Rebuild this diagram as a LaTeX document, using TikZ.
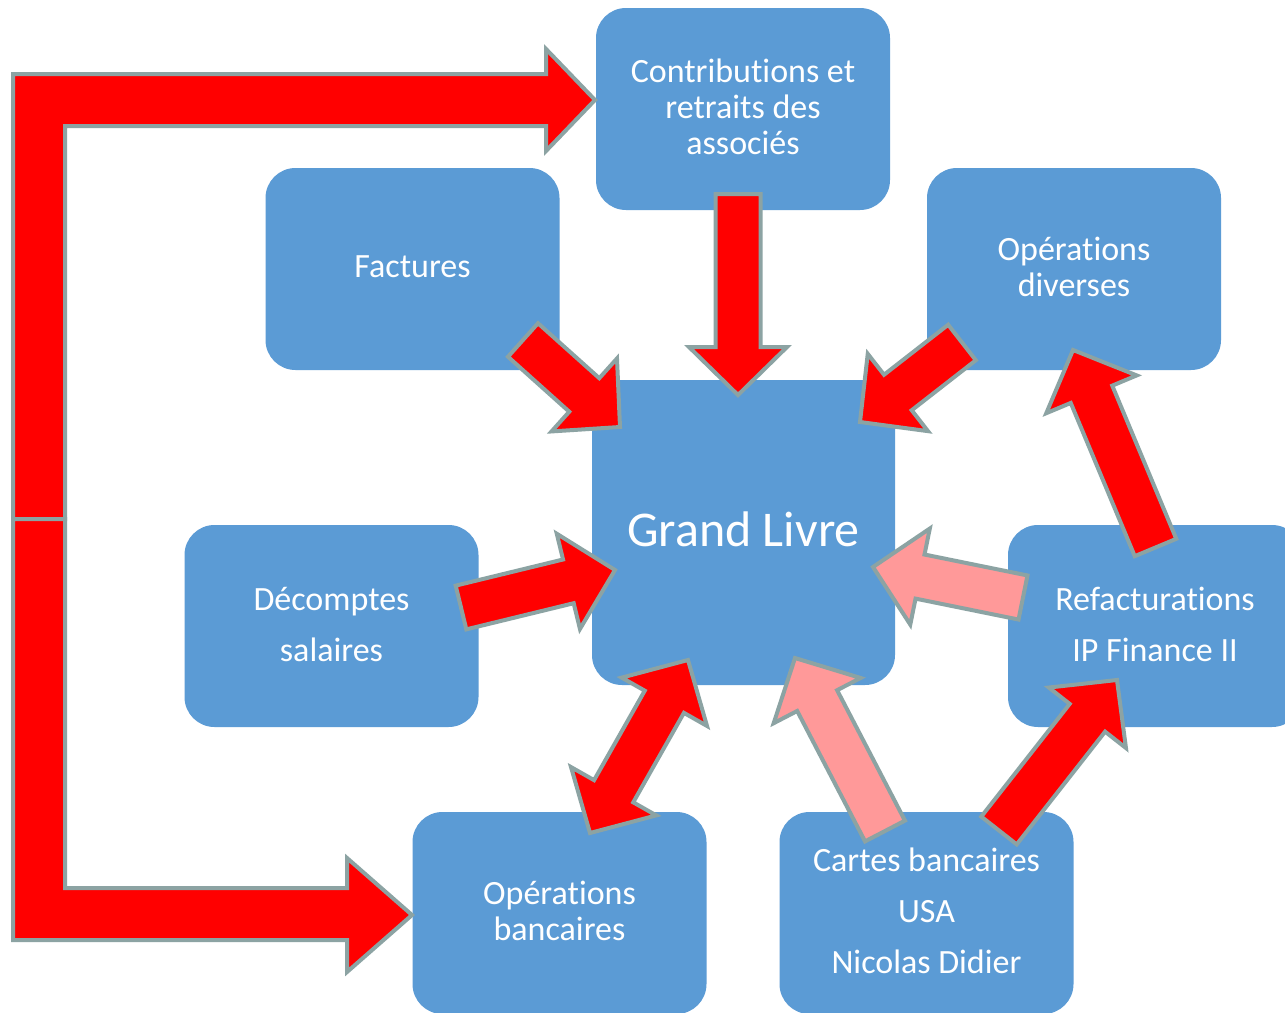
\documentclass[tikz,border=0pt]{standalone}
\usepackage{fontspec}
\setmainfont{Carlito}[Ligatures=NoCommon]
\usetikzlibrary{calc}
\definecolor{boxblue}{HTML}{5B9BD5}
\definecolor{arrowred}{HTML}{FF0000}
\definecolor{arrowpink}{HTML}{FF9999}
\definecolor{arrowedge}{HTML}{8CA3A3}
\newcommand{\blockarrow}[3]{%
  \coordinate (bah) at ($(#2)!48pt!(#1)$);
  \draw[barrow, fill=#3]
    ($(#1)!22.5pt!90:(#2)$) -- ($(bah)!22.5pt!90:(#2)$) -- ($(bah)!49pt!90:(#2)$) -- (#2)
    -- ($(bah)!49pt!-90:(#2)$) -- ($(bah)!22.5pt!-90:(#2)$) -- ($(#1)!22.5pt!-90:(#2)$) -- cycle;
}
\newcommand{\dblockarrow}[3]{%
  \coordinate (bah) at ($(#2)!48pt!(#1)$);
  \coordinate (bat) at ($(#1)!48pt!(#2)$);
  \draw[barrow, fill=#3]
    (#1) -- ($(bat)!49pt!90:(#2)$) -- ($(bat)!22.5pt!90:(#2)$) -- ($(bah)!22.5pt!90:(#2)$) -- ($(bah)!49pt!90:(#2)$) -- (#2)
    -- ($(bah)!49pt!-90:(#2)$) -- ($(bah)!22.5pt!-90:(#2)$) -- ($(bat)!22.5pt!-90:(#2)$) -- ($(bat)!49pt!-90:(#2)$) -- cycle;
}
\begin{document}
\begin{tikzpicture}[x=1pt,y=-1pt,
  box/.style={fill=boxblue, rounded corners=30pt, minimum width=294pt, minimum height=202pt,
    inner sep=0pt, text=white, align=center, font=\fontsize{34}{36}\selectfont},
  wide/.style={font=\fontsize{34}{51}\selectfont},
  barrow/.style={draw=arrowedge, line width=4pt, line join=miter}]
\useasboundingbox (0,0) rectangle (1285,1012);
\clip (0,0) rectangle (1285,1012);
\fill[white] (0,0) rectangle (1285,1012);

% boxes
\node[box] (contrib) at (743,109) {Contributions et\\retraits des\\associés\rule[-4pt]{0pt}{1pt}};
\node[box] (fact) at (412.5,269) {Factures\rule[-4pt]{0pt}{1pt}};
\node[box] (div) at (1074,269) {Opérations\\diverses\rule[-4pt]{0pt}{1pt}};
\node[box, minimum width=303pt, minimum height=305pt, font=\fontsize{50}{60}\selectfont] (gl) at (743.5,532.5) {Grand Livre\rule[-6pt]{0pt}{1pt}};
\node[box, wide] (decomp) at (331.5,626) {Décomptes\\salaires\rule[-4pt]{0pt}{1pt}};
\node[box, wide] (refact) at (1155,626) {Refacturations\\IP Finance II\rule[-4pt]{0pt}{1pt}};
\node[box] (banc) at (559.5,913) {Opérations\\bancaires\rule[-4pt]{0pt}{1pt}};
\node[box, wide] (cartes) at (926.5,913) {Cartes bancaires\\USA\\Nicolas Didier\rule[-4pt]{0pt}{1pt}};

% arrow end points
\coordinate (ct) at (738,194);   \coordinate (cp) at (738,395);
\coordinate (ft) at (523,340);   \coordinate (fp) at (620,427);
\coordinate (dt) at (962,342.5); \coordinate (dp) at (860,422);
\coordinate (st) at (461,607.5); \coordinate (sp) at (615,570);
\coordinate (ba) at (590,833);   \coordinate (bb) at (688,660);
\coordinate (kt) at (885,831);   \coordinate (kp) at (795,658);
\coordinate (rt) at (999,830.5); \coordinate (rp) at (1117,680);
\coordinate (ut) at (1155.5,547.5); \coordinate (up) at (1073,350);
\coordinate (gt) at (1023,597.5); \coordinate (gp) at (873,567);

% bent arrows on the left
\draw[barrow, fill=arrowred] (13,519) -- (13,74) -- (546,74) -- (546,49) -- (595,100)
  -- (546,151) -- (546,126) -- (65,126) -- (65,519) -- cycle;
\draw[barrow, fill=arrowred] (13,519) -- (13,940) -- (347,940) -- (347,972) -- (412,915)
  -- (347,858) -- (347,888) -- (65,888) -- (65,519) -- cycle;

% straight arrows
\blockarrow{ct}{cp}{arrowred}
\blockarrow{ft}{fp}{arrowred}
\blockarrow{dt}{dp}{arrowred}
\blockarrow{st}{sp}{arrowred}
\dblockarrow{ba}{bb}{arrowred}
\blockarrow{kt}{kp}{arrowpink}
\blockarrow{rt}{rp}{arrowred}
\blockarrow{ut}{up}{arrowred}
\blockarrow{gt}{gp}{arrowpink}
\end{tikzpicture}
\end{document}
